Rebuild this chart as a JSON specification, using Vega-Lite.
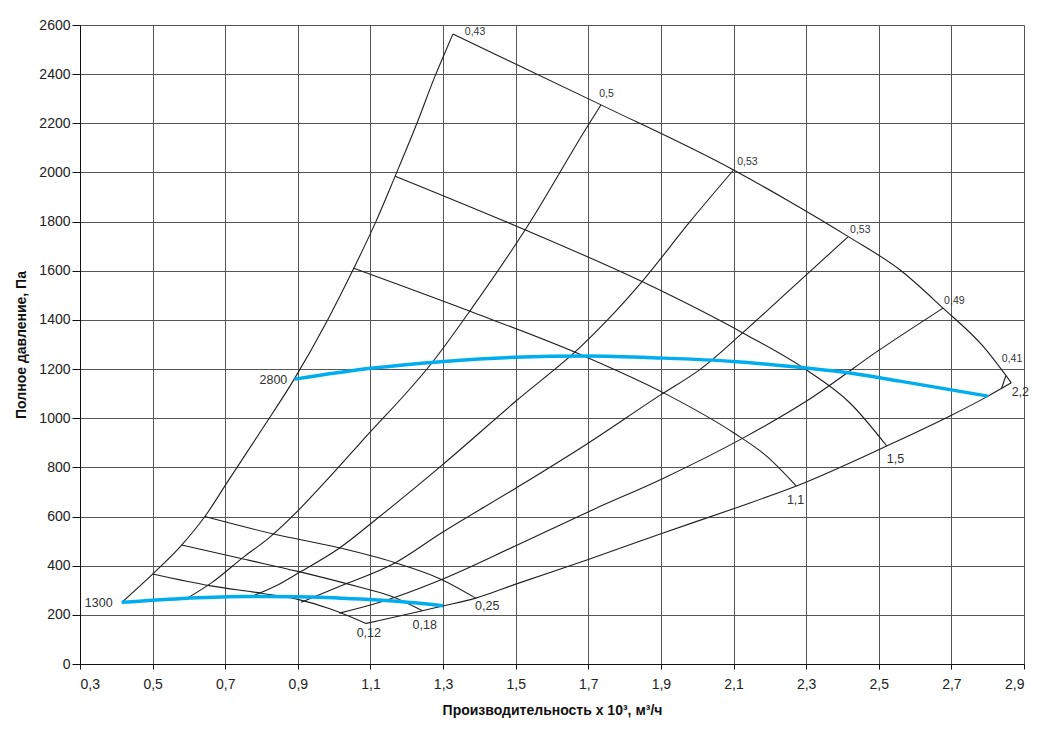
{
  "$schema": "https://vega.github.io/schema/vega-lite/v6.json",
  "width": 944,
  "height": 639,
  "autosize": "none",
  "padding": {"left": 80, "top": 25, "right": 27, "bottom": 70},
  "background": "#ffffff",
  "config": {
    "view": {"stroke": null},
    "font": "Liberation Sans",
    "axis": {
      "labelFont": "Liberation Sans",
      "labelFontSize": 14,
      "labelColor": "#222222",
      "titleFont": "Liberation Sans",
      "titleFontSize": 14,
      "titleFontWeight": "bold",
      "titleColor": "#111111",
      "gridColor": "#555555",
      "gridWidth": 1,
      "gridOpacity": 1,
      "domainColor": "#111111",
      "tickColor": "#111111"
    },
    "text": {"font": "Liberation Sans", "color": "#333333"}
  },
  "datasets": {
    "curves": [
      {"s": "A", "k": "black", "x": 0.415, "y": 251},
      {"s": "A", "k": "black", "x": 0.5, "y": 366},
      {"s": "A", "k": "black", "x": 0.58, "y": 484},
      {"s": "A", "k": "black", "x": 0.644, "y": 600},
      {"s": "A", "k": "black", "x": 0.708, "y": 745},
      {"s": "A", "k": "black", "x": 0.8, "y": 952},
      {"s": "A", "k": "black", "x": 0.89, "y": 1159},
      {"s": "A", "k": "black", "x": 0.982, "y": 1400},
      {"s": "A", "k": "black", "x": 1.054, "y": 1610},
      {"s": "A", "k": "black", "x": 1.115, "y": 1800},
      {"s": "A", "k": "black", "x": 1.168, "y": 1985},
      {"s": "A", "k": "black", "x": 1.228, "y": 2200},
      {"s": "A", "k": "black", "x": 1.28, "y": 2400},
      {"s": "A", "k": "black", "x": 1.303, "y": 2480},
      {"s": "A", "k": "black", "x": 1.327, "y": 2563},

      {"s": "B", "k": "black", "x": 0.598, "y": 270},
      {"s": "B", "k": "black", "x": 0.662, "y": 330},
      {"s": "B", "k": "black", "x": 0.753, "y": 438},
      {"s": "B", "k": "black", "x": 0.818, "y": 510},
      {"s": "B", "k": "black", "x": 0.9, "y": 623},
      {"s": "B", "k": "black", "x": 0.982, "y": 752},
      {"s": "B", "k": "black", "x": 1.074, "y": 903},
      {"s": "B", "k": "black", "x": 1.276, "y": 1238},
      {"s": "B", "k": "black", "x": 1.376, "y": 1441},
      {"s": "B", "k": "black", "x": 1.532, "y": 1780},
      {"s": "B", "k": "black", "x": 1.7, "y": 2193},
      {"s": "B", "k": "black", "x": 1.735, "y": 2275},

      {"s": "C", "k": "black", "x": 0.776, "y": 277},
      {"s": "C", "k": "black", "x": 0.836, "y": 315},
      {"s": "C", "k": "black", "x": 0.909, "y": 377},
      {"s": "C", "k": "black", "x": 1.01, "y": 467},
      {"s": "C", "k": "black", "x": 1.11, "y": 582},
      {"s": "C", "k": "black", "x": 1.294, "y": 805},
      {"s": "C", "k": "black", "x": 1.5, "y": 1069},
      {"s": "C", "k": "black", "x": 1.68, "y": 1292},
      {"s": "C", "k": "black", "x": 1.753, "y": 1400},
      {"s": "C", "k": "black", "x": 1.848, "y": 1556},
      {"s": "C", "k": "black", "x": 1.98, "y": 1800},
      {"s": "C", "k": "black", "x": 2.1, "y": 2010},

      {"s": "D", "k": "black", "x": 0.909, "y": 251},
      {"s": "D", "k": "black", "x": 1.019, "y": 318},
      {"s": "D", "k": "black", "x": 1.166, "y": 410},
      {"s": "D", "k": "black", "x": 1.294, "y": 532},
      {"s": "D", "k": "black", "x": 1.5, "y": 715},
      {"s": "D", "k": "black", "x": 1.68, "y": 880},
      {"s": "D", "k": "black", "x": 1.9, "y": 1096},
      {"s": "D", "k": "black", "x": 2.009, "y": 1200},
      {"s": "D", "k": "black", "x": 2.127, "y": 1350},
      {"s": "D", "k": "black", "x": 2.255, "y": 1522},
      {"s": "D", "k": "black", "x": 2.416, "y": 1739},

      {"s": "E", "k": "black", "x": 1.014, "y": 207},
      {"s": "E", "k": "black", "x": 1.11, "y": 244},
      {"s": "E", "k": "black", "x": 1.298, "y": 345},
      {"s": "E", "k": "black", "x": 1.5, "y": 481},
      {"s": "E", "k": "black", "x": 1.716, "y": 630},
      {"s": "E", "k": "black", "x": 1.9, "y": 751},
      {"s": "E", "k": "black", "x": 2.127, "y": 920},
      {"s": "E", "k": "black", "x": 2.3, "y": 1069},
      {"s": "E", "k": "black", "x": 2.503, "y": 1279},
      {"s": "E", "k": "black", "x": 2.677, "y": 1448},

      {"s": "F", "k": "black", "x": 1.088, "y": 165},
      {"s": "F", "k": "black", "x": 1.3, "y": 236},
      {"s": "F", "k": "black", "x": 1.39, "y": 268},
      {"s": "F", "k": "black", "x": 1.5, "y": 325},
      {"s": "F", "k": "black", "x": 1.7, "y": 425},
      {"s": "F", "k": "black", "x": 1.9, "y": 530},
      {"s": "F", "k": "black", "x": 2.1, "y": 632},
      {"s": "F", "k": "black", "x": 2.273, "y": 724},
      {"s": "F", "k": "black", "x": 2.522, "y": 887},
      {"s": "F", "k": "black", "x": 2.696, "y": 1009},
      {"s": "F", "k": "black", "x": 2.801, "y": 1090},
      {"s": "F", "k": "black", "x": 2.865, "y": 1144},

      {"s": "G", "k": "black", "x": 2.838, "y": 1121},
      {"s": "G", "k": "black", "x": 2.85, "y": 1173},

      {"s": "H", "k": "black", "x": 1.327, "y": 2563},
      {"s": "H", "k": "black", "x": 1.735, "y": 2275},
      {"s": "H", "k": "black", "x": 2.1, "y": 2010},
      {"s": "H", "k": "black", "x": 2.247, "y": 1888},
      {"s": "H", "k": "black", "x": 2.416, "y": 1739},
      {"s": "H", "k": "black", "x": 2.558, "y": 1604},
      {"s": "H", "k": "black", "x": 2.677, "y": 1448},
      {"s": "H", "k": "black", "x": 2.787, "y": 1293},
      {"s": "H", "k": "black", "x": 2.865, "y": 1144},

      {"s": "I", "k": "black", "x": 1.168, "y": 1985},
      {"s": "I", "k": "black", "x": 1.527, "y": 1766},
      {"s": "I", "k": "black", "x": 1.848, "y": 1556},
      {"s": "I", "k": "black", "x": 2.127, "y": 1346},
      {"s": "I", "k": "black", "x": 2.3, "y": 1197},
      {"s": "I", "k": "black", "x": 2.42, "y": 1063},
      {"s": "I", "k": "black", "x": 2.522, "y": 887},

      {"s": "J", "k": "black", "x": 1.054, "y": 1610},
      {"s": "J", "k": "black", "x": 1.376, "y": 1434},
      {"s": "J", "k": "black", "x": 1.68, "y": 1258},
      {"s": "J", "k": "black", "x": 1.917, "y": 1096},
      {"s": "J", "k": "black", "x": 2.1, "y": 941},
      {"s": "J", "k": "black", "x": 2.191, "y": 846},
      {"s": "J", "k": "black", "x": 2.273, "y": 724},

      {"s": "K", "k": "black", "x": 0.644, "y": 600},
      {"s": "K", "k": "black", "x": 0.836, "y": 528},
      {"s": "K", "k": "black", "x": 1.01, "y": 474},
      {"s": "K", "k": "black", "x": 1.166, "y": 413},
      {"s": "K", "k": "black", "x": 1.294, "y": 345},
      {"s": "K", "k": "black", "x": 1.39, "y": 268},

      {"s": "L", "k": "black", "x": 0.58, "y": 484},
      {"s": "L", "k": "black", "x": 0.753, "y": 426},
      {"s": "L", "k": "black", "x": 0.9, "y": 377},
      {"s": "L", "k": "black", "x": 1.074, "y": 311},
      {"s": "L", "k": "black", "x": 1.166, "y": 271},
      {"s": "L", "k": "black", "x": 1.243, "y": 217},

      {"s": "M", "k": "black", "x": 0.5, "y": 366},
      {"s": "M", "k": "black", "x": 0.66, "y": 318},
      {"s": "M", "k": "black", "x": 0.8, "y": 288},
      {"s": "M", "k": "black", "x": 0.9, "y": 263},
      {"s": "M", "k": "black", "x": 0.99, "y": 224},
      {"s": "M", "k": "black", "x": 1.088, "y": 165},

      {"s": "N1300", "k": "blue", "x": 0.415, "y": 251},
      {"s": "N1300", "k": "blue", "x": 0.598, "y": 268},
      {"s": "N1300", "k": "blue", "x": 0.753, "y": 275},
      {"s": "N1300", "k": "blue", "x": 0.9, "y": 274},
      {"s": "N1300", "k": "blue", "x": 1.074, "y": 264},
      {"s": "N1300", "k": "blue", "x": 1.202, "y": 251},
      {"s": "N1300", "k": "blue", "x": 1.3, "y": 237},

      {"s": "N2800", "k": "blue", "x": 0.891, "y": 1159},
      {"s": "N2800", "k": "blue", "x": 1.101, "y": 1203},
      {"s": "N2800", "k": "blue", "x": 1.294, "y": 1230},
      {"s": "N2800", "k": "blue", "x": 1.495, "y": 1248},
      {"s": "N2800", "k": "blue", "x": 1.697, "y": 1253},
      {"s": "N2800", "k": "blue", "x": 1.9, "y": 1245},
      {"s": "N2800", "k": "blue", "x": 2.1, "y": 1231},
      {"s": "N2800", "k": "blue", "x": 2.3, "y": 1204},
      {"s": "N2800", "k": "blue", "x": 2.42, "y": 1184},
      {"s": "N2800", "k": "blue", "x": 2.558, "y": 1151},
      {"s": "N2800", "k": "blue", "x": 2.801, "y": 1090}
    ],
    "labels": [
      {"g": "eff", "t": "0,43", "x": 1.36, "y": 2570},
      {"g": "eff", "t": "0,5", "x": 1.73, "y": 2319},
      {"g": "eff", "t": "0,53", "x": 2.11, "y": 2044},
      {"g": "eff", "t": "0,53", "x": 2.421, "y": 1766},
      {"g": "eff", "t": "0,49", "x": 2.68, "y": 1478},
      {"g": "eff", "t": "0,41", "x": 2.839, "y": 1240},
      {"g": "pow", "t": "2,2", "x": 2.866, "y": 1105},
      {"g": "pow", "t": "1,5", "x": 2.522, "y": 835},
      {"g": "pow", "t": "1,1", "x": 2.247, "y": 667},
      {"g": "pow", "t": "0,25", "x": 1.388, "y": 236},
      {"g": "pow", "t": "0,18", "x": 1.216, "y": 159},
      {"g": "pow", "t": "0,12", "x": 1.062, "y": 125},
      {"g": "rpm", "t": "1300", "x": 0.39, "y": 247},
      {"g": "rpm", "t": "2800", "x": 0.871, "y": 1155}
    ]
  },
  "layer": [
    {
      "data": {"name": "curves"},
      "transform": [{"filter": "datum.k == 'black'"}],
      "mark": {"type": "line", "color": "#1e1e1e", "strokeWidth": 1.1, "interpolate": "monotone"},
      "encoding": {
        "x": {
          "field": "x",
          "type": "quantitative",
          "scale": {"domain": [0.3, 2.9], "nice": false, "zero": false},
          "axis": {
            "values": [0.3, 0.5, 0.7, 0.9, 1.1, 1.3, 1.5, 1.7, 1.9, 2.1, 2.3, 2.5, 2.7, 2.9],
            "labelExpr": "replace(format(datum.value, '.1f'), '.', ',')",
            "title": "Производительность х 10³, м³/ч",
            "grid": true,
            "tickSize": 5,
            "labelPadding": 8,
            "titlePadding": 12
          }
        },
        "y": {
          "field": "y",
          "type": "quantitative",
          "scale": {"domain": [0, 2600], "nice": false},
          "axis": {
            "values": [0, 200, 400, 600, 800, 1000, 1200, 1400, 1600, 1800, 2000, 2200, 2400, 2600],
            "format": "d",
            "title": "Полное давление, Па",
            "grid": true,
            "tickSize": 8,
            "labelPadding": 2,
            "titlePadding": 10
          }
        },
        "detail": {"field": "s"}
      }
    },
    {
      "data": {"name": "curves"},
      "transform": [{"filter": "datum.k == 'blue'"}],
      "mark": {"type": "line", "color": "#00aeef", "strokeWidth": 3.5, "interpolate": "monotone"},
      "encoding": {
        "x": {"field": "x", "type": "quantitative"},
        "y": {"field": "y", "type": "quantitative"},
        "detail": {"field": "s"}
      }
    },
    {
      "data": {"name": "labels"},
      "transform": [{"filter": "datum.g == 'eff'"}],
      "mark": {"type": "text", "align": "left", "baseline": "middle", "fontSize": 10.5},
      "encoding": {
        "x": {"field": "x", "type": "quantitative"},
        "y": {"field": "y", "type": "quantitative"},
        "text": {"field": "t"}
      }
    },
    {
      "data": {"name": "labels"},
      "transform": [{"filter": "datum.g == 'pow'"}],
      "mark": {"type": "text", "align": "left", "baseline": "middle", "fontSize": 12.5},
      "encoding": {
        "x": {"field": "x", "type": "quantitative"},
        "y": {"field": "y", "type": "quantitative"},
        "text": {"field": "t"}
      }
    },
    {
      "data": {"name": "labels"},
      "transform": [{"filter": "datum.g == 'rpm'"}],
      "mark": {"type": "text", "align": "right", "baseline": "middle", "fontSize": 12.5},
      "encoding": {
        "x": {"field": "x", "type": "quantitative"},
        "y": {"field": "y", "type": "quantitative"},
        "text": {"field": "t"}
      }
    }
  ]
}
